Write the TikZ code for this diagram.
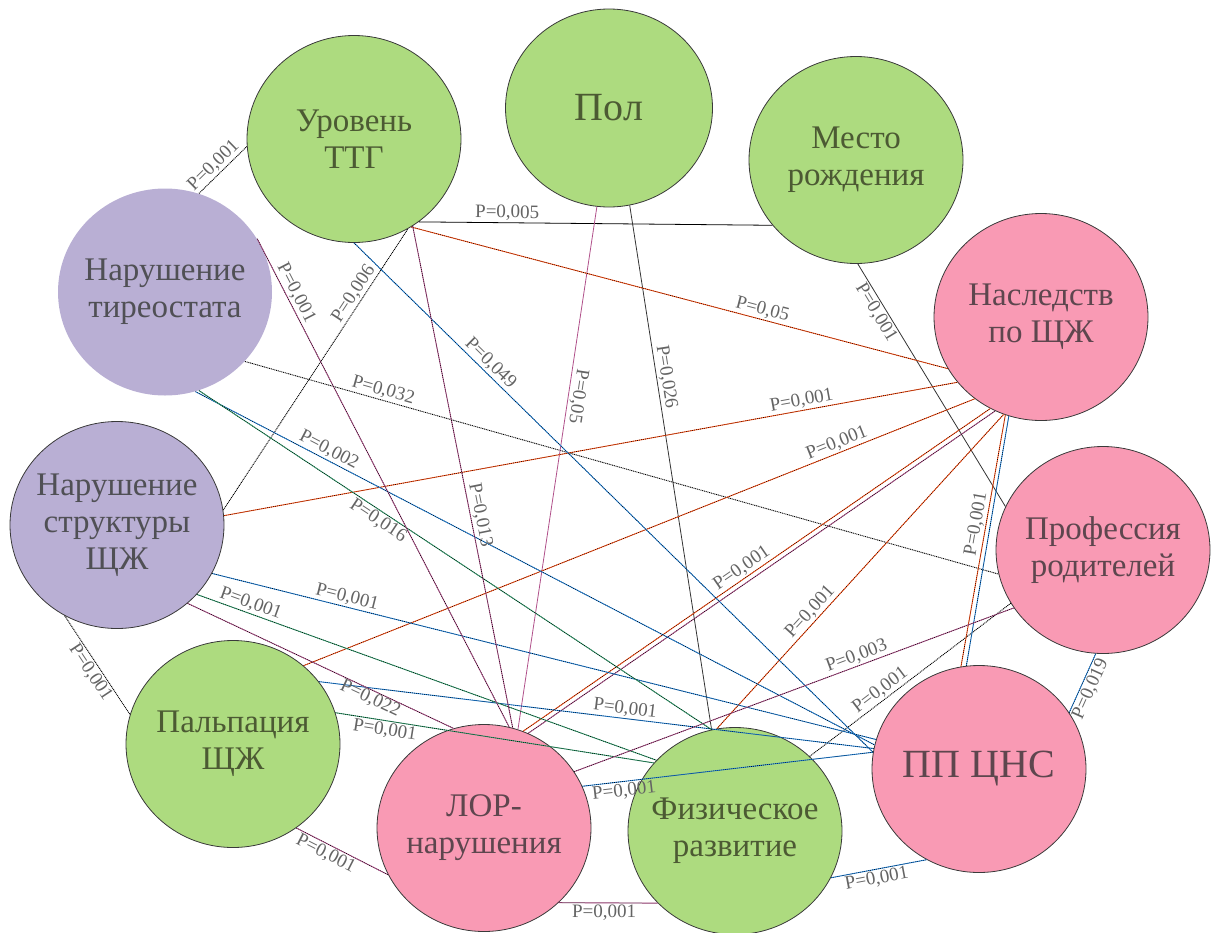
\documentclass[tikz,border=0pt]{standalone}
\usepackage{fontspec}
\setmainfont{Liberation Serif}
\usepackage{xcolor}
\usetikzlibrary{shapes.geometric}

\definecolor{fgreen}{HTML}{ADDB7F}
\definecolor{fpink}{HTML}{F99AB4}
\definecolor{flilac}{HTML}{B9AFD4}
\definecolor{tgreen}{HTML}{4C5A33}
\definecolor{tpink}{HTML}{5E464E}
\definecolor{tlilac}{HTML}{505055}
\definecolor{circline}{HTML}{3A3A3A}
\definecolor{labelgray}{HTML}{646464}
\definecolor{darkline}{HTML}{333333}
\definecolor{lnorange}{HTML}{FF5014}
\definecolor{lnblue}{HTML}{1F82DC}
\definecolor{lngreen}{HTML}{2E9A6A}
\definecolor{lnpurple}{HTML}{B0508A}

\begin{document}
\begin{tikzpicture}[x=1pt, y=-1pt,
    factor/.style={ellipse, minimum width=214pt, minimum height=207pt, inner sep=-9pt, draw=circline, line width=0.8pt, align=center, font=\fontsize{33}{37}\selectfont},
    general/.style={factor, fill=fgreen, text=tgreen},
    heredity/.style={factor, fill=fpink, text=tpink},
    thyroid/.style={factor, fill=flilac, text=tlilac},
    bigtext/.style={font=\fontsize{40}{44}\selectfont},
    pval/.style={font=\fontsize{19}{19}\selectfont, text=labelgray, sloped, inner sep=1.5pt},
    pline/.style={draw=#1, line width=0.9pt, postaction={draw=black, solid, line width=0.6pt, dash pattern=on 0.7pt off 1.3pt}},
    kline/.style={draw=black, line width=0.9pt, dash pattern=on 1pt off 0.8pt},
    sline/.style={draw=#1, line width=0.8pt}
]
    \useasboundingbox (0,0) rectangle (1212,932);

    % factors
    \node[general] (ttg) at (354,139) {Уровень\\ТТГ};
    \node[general, bigtext, minimum width=207pt, minimum height=198pt] (pol) at (609,108) {Пол};
    \node[general] (mesto) at (856,160) {Место\\рождения};
    \node[heredity] (nasl) at (1041,317) {Наследств\\по ЩЖ};
    \node[heredity] (prof) at (1103,550) {Профессия\\родителей};
    \node[heredity, bigtext] (cns) at (979,769) {ПП ЦНС};
    \node[general] (fiz) at (735,831) {Физическое\\развитие};
    \node[heredity] (lor) at (484,828) {ЛОР-\\нарушения};
    \node[general] (palp) at (233,744) {Пальпация\\ЩЖ};
    \node[thyroid] (struct) at (117,525) {Нарушение\\структуры\\ЩЖ};
    \node[thyroid, draw=none] (tir) at (165,292) {Нарушение\\тиреостата};

    % black dotted
    \draw[kline] (tir.71) -- node[pval, pos=0.45, above]{P=0,001} (ttg.184);
    \draw[kline] (struct.8) -- node[pval, pos=0.75, above]{P=0,006} (ttg.-59);
    \draw[kline] (tir.-41) -- node[pval, pos=0.18, above]{P=0,032} (prof.193);
    \draw[kline] (struct.-120) -- node[pval, pos=0.52, below]{P=0,001} (palp.164);
    \draw[kline] (fiz.45) -- node[pval, pos=0.38, above]{P=0,001} (prof.-150);

    % solid
    \draw[sline=black] (ttg.-52) -- node[pval, pos=0.25, above]{P=0,005} (mesto.-142);
    \draw[sline=darkline] (mesto.-89) -- node[pval, pos=0.18, below]{P=0,001} (prof.156);
    \draw[sline=darkline] (pol.-78) -- node[pval, pos=0.33, above]{P=0,026} (fiz.103);
    \draw[sline=lnpurple] (pol.-97) -- node[pval, pos=0.36, above, allow upside down]{P=0,05} (lor.71);

    % orange
    \draw[pline=lnorange] (ttg.-57) -- node[pval, pos=0.65, above]{P=0,05} (nasl.-151);
    \draw[pline=lnorange] (struct.5) -- node[pval, pos=0.79, above]{P=0,001} (nasl.-142);
    \draw[pline=lnorange] (palp.48) -- node[pval, pos=0.8, above]{P=0,001} (nasl.-129);
    \draw[pline=lnorange] (lor.68) -- node[pval, pos=0.48, above]{P=0,001} (nasl.-119);
    \draw[pline=lnpurple] (lor.65) -- (nasl.-116);
    \draw[pline=lnorange] (fiz.100) -- node[pval, pos=0.35, above]{P=0,001} (nasl.-111);
    \draw[pline=lnorange] (cns.100) -- node[pval, pos=0.56, above]{P=0,001} (nasl.-110);
    \draw[pline=lnblue] (cns.97) -- (nasl.-108);

    % blue
    \draw[pline=lnblue] (ttg.-90) -- node[pval, pos=0.25, above]{P=0,049} (cns.171);
    \draw[pline=lnblue] (tir.-73) -- node[pval, pos=0.19, above]{P=0,002} (cns.167);
    \draw[pline=lnblue] (struct.-27) -- node[pval, pos=0.2, above]{P=0,001} (cns.164);
    \draw[pline=lnblue] (palp.36) -- node[pval, pos=0.55, above]{P=0,001} (cns.169);
    \draw[pline=lnblue] (lor.23) -- node[pval, pos=0.14, below]{P=0,001} (cns.171);
    \draw[pline=lnblue] (cns.32) -- node[pval, pos=0.47, below]{P=0,019} (prof.-94);
    \draw[pline=lnblue] (fiz.-26) -- node[pval, pos=0.46, below]{P=0,001} (cns.-120);

    % green
    \draw[pline=lngreen] (tir.-71) -- node[pval, pos=0.36, below]{P=0,016} (fiz.103);
    \draw[pline=lngreen] (struct.-41) -- node[pval, pos=0.11, above]{P=0,001} (fiz.138);
    \draw[pline=lngreen] (palp.17) -- node[pval, pos=0.16, below]{P=0,001} (fiz.140);

    % purple
    \draw[pline=lnpurple] (tir.30) -- node[pval, pos=0.12, above]{P=0,001} (lor.76);
    \draw[pline=lnpurple] (ttg.-56) -- node[pval, pos=0.58, above]{P=0,013} (lor.74);
    \draw[pline=lnpurple] (struct.-48) -- node[pval, pos=0.7, below, inner sep=0pt]{P=0,022} (lor.107);
    \draw[pline=lnpurple] (palp.-53) -- node[pval, pos=0.37, below]{P=0,001} (lor.-154);
    \draw[pline=lnpurple] (lor.32) -- node[pval, pos=0.65, above]{P=0,003} (prof.-147);
    \draw[pline=lnpurple] (lor.-45) -- node[pval, pos=0.46, below]{P=0,001} (fiz.-137);
\end{tikzpicture}
\end{document}
